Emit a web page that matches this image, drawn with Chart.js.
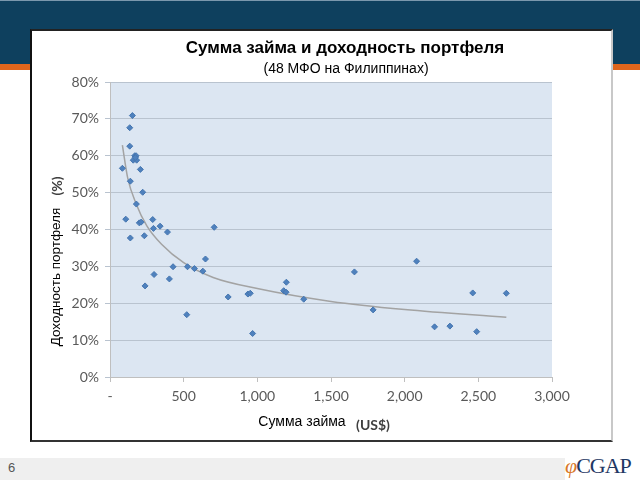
<!DOCTYPE html>
<html>
<head>
<meta charset="utf-8">
<script src="https://cdn.jsdelivr.net/npm/chart.js@4"></script>
<style>
  html, body { margin: 0; padding: 0; }
  body { width: 640px; height: 480px; position: relative; overflow: hidden; background: #fff; font-family: "Liberation Sans", Arial, sans-serif; }
  #band { position: absolute; left: 0; top: 0; width: 640px; height: 64px; background: #0e405e; border-top: 1px solid #7b98ad; box-sizing: border-box; }
  #stripe { position: absolute; left: 0; top: 64px; width: 640px; height: 6px; background: #e0661c; }
  #frame { position: absolute; left: 30px; top: 29px; width: 583px; height: 413px; background: #fff;
           border-left: 2px solid #111; border-top: 2px solid #222; border-bottom: 2px solid #333; border-right: 2px solid #c8c8c8; box-sizing: border-box; }
  #chart { position: absolute; left: 30px; top: 29px; }
  #foot { position: absolute; left: 0; top: 458px; width: 565px; height: 22px; background: #efefef; }
  #page { position: absolute; left: 8px; top: 460px; font: 13px "Liberation Sans Narrow", "Liberation Sans", sans-serif; color: #555; }
  #logo { position: absolute; left: 565px; top: 453px; font: 22px "Liberation Serif", "DejaVu Serif", serif; color: #1f3864; letter-spacing: -1px; }
  #logo span { color: #d9782a; font-style: italic; }
</style>
</head>
<body>
<div id="band"></div>
<div id="stripe"></div>
<div id="frame"></div>
<canvas id="chart" width="583" height="413"></canvas>
<div id="foot"></div>
<div id="page">6</div>
<div id="logo"><span>φ</span>CGAP</div>
<script>
// loan size (US$) and portfolio yield (%), 48 MFIs
const loanSize = [152, 134, 134, 168, 177, 158, 181, 172, 84, 206, 138, 222, 179, 107, 199, 211,
  290, 295, 340, 390, 138, 233, 707, 648, 428, 238, 299, 403, 526, 573, 630, 521,
  802, 936, 952, 968, 1179, 1195, 1197, 1315, 1659, 1786, 2081, 2203, 2307, 2462, 2489, 2690];
const portfolioYield = [70.9, 67.6, 62.6, 60.0, 60.0, 58.8, 58.8, 59.5, 56.6, 56.3, 53.1, 50.1, 46.9, 42.8, 41.8, 42.0,
  42.7, 40.3, 40.9, 39.3, 37.7, 38.3, 40.6, 32.0, 29.9, 24.7, 27.8, 26.6, 29.9, 29.4, 28.7, 16.9,
  21.7, 22.5, 22.7, 11.8, 23.4, 23.0, 25.7, 21.1, 28.5, 18.2, 31.4, 13.6, 13.8, 22.8, 12.3, 22.7];

// trend line
const trendX = [84, 120, 177, 250, 350, 500, 700, 1000, 1500, 2000, 2690];
const trendY = [62.9, 54.0, 47.0, 41.0, 36.0, 31.0, 27.0, 24.0, 20.5, 18.3, 16.2];

const title = 'Сумма займа и доходность портфеля';
const subtitle = '(48 МФО на Филиппинах)';
const xTitle = 'Сумма займа';
const xUnit = '(US$)';
const yTitle = 'Доходность портфеля';
const yUnit = '(%)';

const tickFont = { family: 'Lato, "Liberation Sans", sans-serif', size: 14 };

// plot background + captions
const decor = {
  id: 'decor',
  beforeDraw(chart) {
    const { ctx, chartArea: a } = chart;
    ctx.save();
    ctx.fillStyle = '#dce6f2';
    ctx.fillRect(a.left, a.top, a.right - a.left, a.bottom - a.top);
    ctx.restore();
  },
  afterDraw(chart) {
    const ctx = chart.ctx;
    ctx.save();
    ctx.fillStyle = '#000';
    ctx.textAlign = 'center';
    ctx.textBaseline = 'middle';
    ctx.font = 'bold 17px "Liberation Sans", Arial, sans-serif';
    ctx.fillText(title, 315, 19);
    ctx.font = '14px "Liberation Sans", Arial, sans-serif';
    ctx.fillText(subtitle, 316, 40);

    ctx.font = '14px "Liberation Sans", Arial, sans-serif';
    ctx.fillText(xTitle, 272, 393);
    ctx.fillStyle = '#404040';
    ctx.font = 'bold 14px Lato, sans-serif';
    ctx.fillText(xUnit, 343, 396);

    ctx.translate(26, 0);
    ctx.rotate(-Math.PI / 2);
    ctx.fillStyle = '#000';
    ctx.font = '13.5px "Liberation Sans", Arial, sans-serif';
    ctx.fillText(yTitle, -248, 0);
    ctx.fillStyle = '#404040';
    ctx.font = 'bold 14px Lato, sans-serif';
    ctx.fillText(yUnit, -157, 1);
    ctx.restore();
  }
};

new Chart(document.getElementById('chart'), {
  type: 'scatter',
  data: {
    datasets: [
      {
        label: 'MFI',
        data: loanSize.map((x, i) => ({ x, y: portfolioYield[i] })),
        pointStyle: 'rectRot',
        pointRadius: 3,
        backgroundColor: '#4f81bd',
        borderColor: '#4676b0',
        borderWidth: 1
      },
      {
        label: 'trend',
        type: 'line',
        data: trendX.map((x, i) => ({ x, y: trendY[i] })),
        showLine: true,
        pointRadius: 0,
        borderColor: '#a3a3a3',
        borderWidth: 1.5,
        cubicInterpolationMode: 'monotone',
        fill: false
      }
    ]
  },
  options: {
    responsive: false,
    devicePixelRatio: 1,
    animation: false,
    layout: { padding: { left: 40, top: 53, right: 61, bottom: 35 } },
    plugins: { legend: { display: false }, tooltip: { enabled: false } },
    scales: {
      x: {
        type: 'linear',
        min: 0,
        max: 3000,
        afterFit(s) { s.height = 30; },
        ticks: {
          stepSize: 500,
          color: '#595959',
          font: tickFont,
          padding: 6,
          maxRotation: 0,
          callback: v => v === 0 ? '-' : v.toLocaleString('en-US')
        },
        grid: { drawOnChartArea: false, tickLength: 5, color: '#bfbfbf' },
        border: { color: '#bfbfbf' }
      },
      y: {
        min: 0,
        max: 80,
        afterFit(s) { s.width = 40; },
        ticks: {
          stepSize: 10,
          color: '#595959',
          font: tickFont,
          padding: 6,
          callback: v => v + '%'
        },
        grid: { color: '#b9c3cf', tickLength: 5 },
        border: { color: '#bfbfbf' }
      }
    }
  },
  plugins: [decor]
});
</script>
</body>
</html>
